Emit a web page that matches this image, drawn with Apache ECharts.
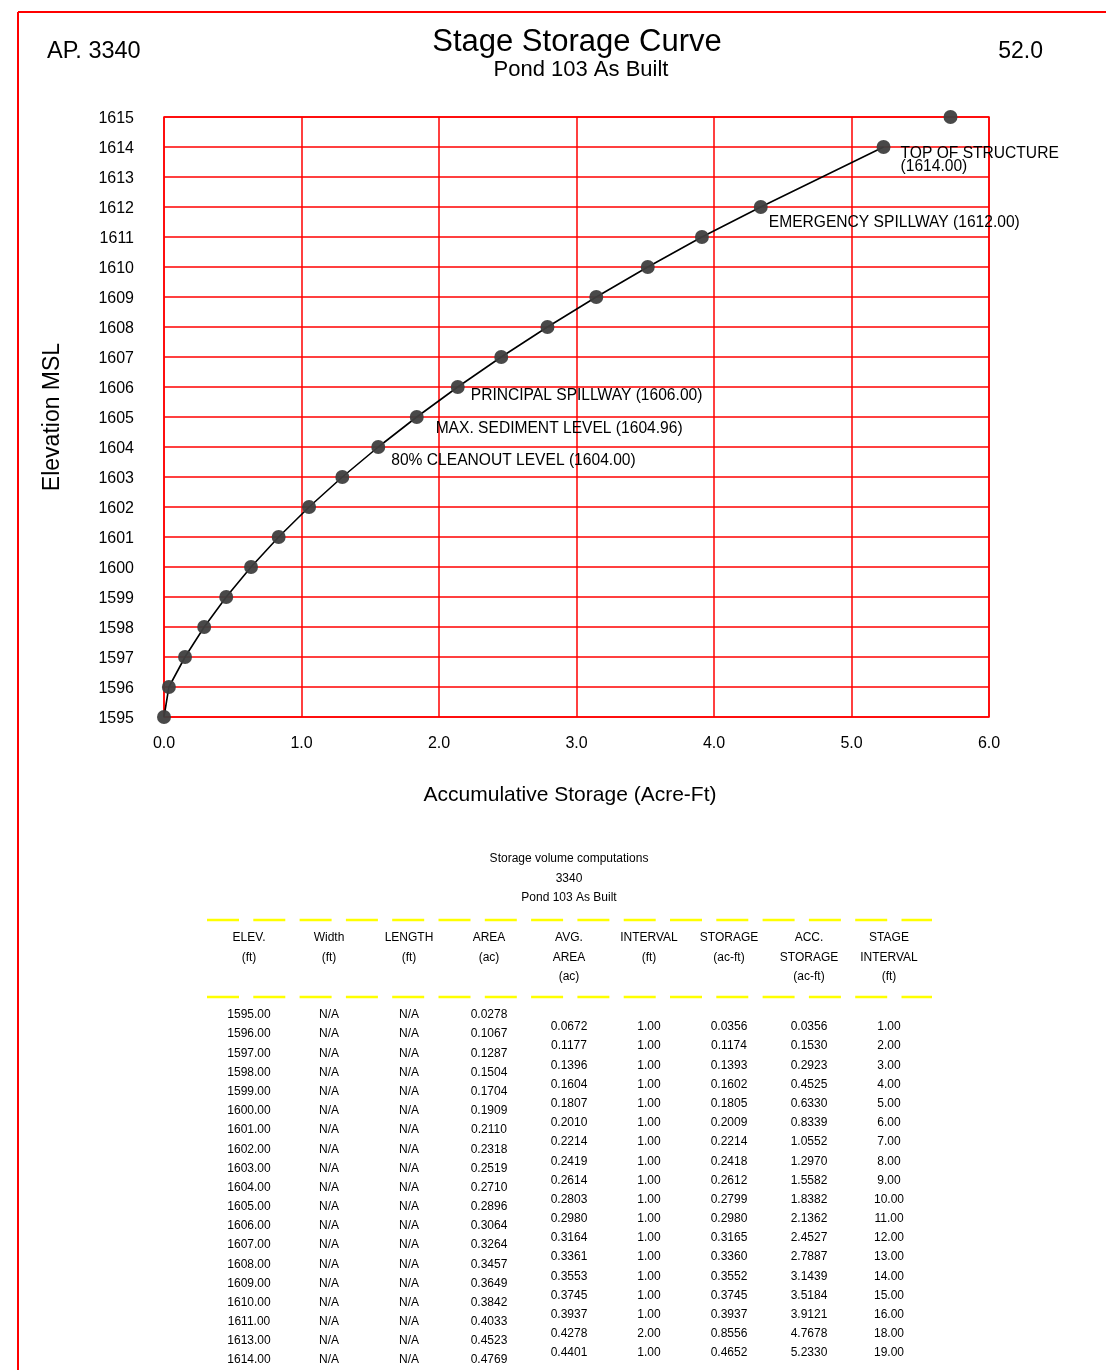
<!DOCTYPE html>
<html>
<head>
<meta charset="utf-8">
<style>
html,body{margin:0;padding:0;background:#fff;}
#chart{width:1106px;height:1370px;}
</style>
<script src="https://cdn.jsdelivr.net/npm/echarts@6/dist/echarts.min.js"></script>
</head>
<body>
<div id="chart"></div>
<script>
// ---------- Chart data ----------
const curveElevation = [1595,1596,1597,1598,1599,1600,1601,1602,1603,1604,1605,1606,1607,1608,1609,1610,1611,1612,1614];
const curveStorage   = [0,0.0356,0.1530,0.2923,0.4525,0.6330,0.8339,1.0552,1.2970,1.5582,1.8382,2.1362,2.4527,2.7887,3.1439,3.5184,3.9121,4.34,5.2330];
const topElevation = [1615];
const topStorage = [5.72];

const annotationText = ['TOP OF STRUCTURE\n(1614.00)','EMERGENCY SPILLWAY (1612.00)','PRINCIPAL SPILLWAY (1606.00)','MAX. SEDIMENT LEVEL (1604.96)','80% CLEANOUT LEVEL (1604.00)'];
const annotationElevation = [1614,1612,1606,1604.96,1604];
const annotationStorage = [5.2330,4.34,2.1362,1.83,1.5582];

const xTicks = [0,1,2,3,4,5,6];
const yTicks = [1595,1596,1597,1598,1599,1600,1601,1602,1603,1604,1605,1606,1607,1608,1609,1610,1611,1612,1613,1614,1615];

// ---------- Table data ----------
const tableTitle = ['Storage volume computations','3340','Pond 103 As Built'];
const headers = [['ELEV.','(ft)'],['Width','(ft)'],['LENGTH','(ft)'],['AREA','(ac)'],['AVG.','AREA','(ac)'],['INTERVAL','(ft)'],['STORAGE','(ac-ft)'],['ACC.','STORAGE','(ac-ft)'],['STAGE','INTERVAL','(ft)']];
const elev = ['1595.00','1596.00','1597.00','1598.00','1599.00','1600.00','1601.00','1602.00','1603.00','1604.00','1605.00','1606.00','1607.00','1608.00','1609.00','1610.00','1611.00','1613.00','1614.00'];
const widthCol = ['N/A','N/A','N/A','N/A','N/A','N/A','N/A','N/A','N/A','N/A','N/A','N/A','N/A','N/A','N/A','N/A','N/A','N/A','N/A'];
const lengthCol = ['N/A','N/A','N/A','N/A','N/A','N/A','N/A','N/A','N/A','N/A','N/A','N/A','N/A','N/A','N/A','N/A','N/A','N/A','N/A'];
const area = ['0.0278','0.1067','0.1287','0.1504','0.1704','0.1909','0.2110','0.2318','0.2519','0.2710','0.2896','0.3064','0.3264','0.3457','0.3649','0.3842','0.4033','0.4523','0.4769'];
const avgArea = ['0.0672','0.1177','0.1396','0.1604','0.1807','0.2010','0.2214','0.2419','0.2614','0.2803','0.2980','0.3164','0.3361','0.3553','0.3745','0.3937','0.4278','0.4401'];
const intervalCol = ['1.00','1.00','1.00','1.00','1.00','1.00','1.00','1.00','1.00','1.00','1.00','1.00','1.00','1.00','1.00','1.00','2.00','1.00'];
const storageCol = ['0.0356','0.1174','0.1393','0.1602','0.1805','0.2009','0.2214','0.2418','0.2612','0.2799','0.2980','0.3165','0.3360','0.3552','0.3745','0.3937','0.8556','0.4652'];
const accStorage = ['0.0356','0.1530','0.2923','0.4525','0.6330','0.8339','1.0552','1.2970','1.5582','1.8382','2.1362','2.4527','2.7887','3.1439','3.5184','3.9121','4.7678','5.2330'];
const stageInterval = ['1.00','2.00','3.00','4.00','5.00','6.00','7.00','8.00','9.00','10.00','11.00','12.00','13.00','14.00','15.00','16.00','18.00','19.00'];

// ---------- Build ----------
const FONT = "'Liberation Sans', Arial, Helvetica, sans-serif";
const DY = 2; // baseline correction
const chart = echarts.init(document.getElementById('chart'), null, {renderer:'canvas'});

function txt(x, y, text, size, align, opts) {
  opts = opts || {};
  return {
    type:'text', x:x + (opts.rotation ? DY : 0), y:y + (opts.rotation ? 0 : DY), rotation: opts.rotation || 0, z: 10,
    style:{text:text, fill: opts.fill || '#000', font: size + 'px ' + FONT,
      textAlign: align || 'center', textVerticalAlign:'middle', align: align || 'center', verticalAlign:'middle'}
  };
}

const graphics = [];
// page border
graphics.push({type:'line', shape:{x1:18,y1:12,x2:1106,y2:12}, style:{stroke:'#ff0000', lineWidth:2}});
graphics.push({type:'line', shape:{x1:18,y1:12,x2:18,y2:1370}, style:{stroke:'#ff0000', lineWidth:2}});
// headers
graphics.push(txt(577, 40, 'Stage Storage Curve', 31, 'center'));
graphics.push(txt(581, 68, 'Pond 103 As Built', 22, 'center'));
graphics.push(txt(47, 50, 'AP. 3340', 23.5, 'left'));
graphics.push(txt(1043, 50, '52.0', 23, 'right'));
// axis names
graphics.push(txt(570, 793, 'Accumulative Storage (Acre-Ft)', 21, 'center'));
graphics.push(txt(51, 417, 'Elevation MSL', 23, 'center', {rotation: Math.PI/2}));

// table
tableTitle.forEach((t,i)=>graphics.push(txt(569, 857 + i*19.3, t, 12, 'center')));
[920, 997].forEach(y=>graphics.push({type:'line', shape:{x1:207,y1:y,x2:932,y2:y}, style:{stroke:'#ffff00', lineWidth:2.5, lineDash:[32,14.3]}}));
const colX = [249,329,409,489,569,649,729,809,889];
headers.forEach((h,c)=>h.forEach((t,r)=>graphics.push(txt(colX[c], 936 + r*19.5, t, 12, 'center'))));
const leftCols = [elev, widthCol, lengthCol, area];
leftCols.forEach((col,c)=>col.forEach((v,r)=>graphics.push(txt(colX[c], 1013 + r*19.17, v, 12, 'center'))));
const rightCols = [avgArea, intervalCol, storageCol, accStorage, stageInterval];
rightCols.forEach((col,c)=>col.forEach((v,r)=>graphics.push(txt(colX[c+4], 1025 + r*19.17, v, 12, 'center'))));

const labelOffsets = [[17,13.5],[8,16],[13,9],[20,10],[13,14]];

const option = {
  animation:false,
  backgroundColor:'#fff',
  grid:{left:164, top:117, width:825, height:600, show:true, borderColor:'#ff0000', borderWidth:1.5, backgroundColor:'transparent'},
  xAxis:{
    type:'value', min:0, max:6, interval:1,
    axisLine:{show:false}, axisTick:{show:false},
    splitLine:{show:true, lineStyle:{color:'#ff0000', width:1.5}},
    axisLabel:{color:'#000', fontSize:16, fontFamily:FONT, margin:19, formatter:v=>v.toFixed(1)}
  },
  yAxis:{
    type:'value', min:1595, max:1615, interval:1,
    axisLine:{show:false}, axisTick:{show:false},
    splitLine:{show:true, lineStyle:{color:'#ff0000', width:1.5}},
    axisLabel:{color:'#000', fontSize:16, fontFamily:FONT, margin:30, verticalAlign:'top', lineHeight:4, formatter:v=>String(v)}
  },
  series:[
    {
      type:'line', data: curveStorage.map((s,i)=>[s, curveElevation[i]]),
      lineStyle:{color:'#000', width:1.6}, symbol:'circle', symbolSize:14,
      itemStyle:{color:'#3f3f3f', opacity:0.95}, z:3
    },
    {
      type:'scatter', data: topStorage.map((s,i)=>[s, topElevation[i]]),
      symbol:'circle', symbolSize:14, itemStyle:{color:'#3f3f3f', opacity:0.95}, z:3
    },
    {
      type:'scatter', symbolSize:0, silent:true, z:5,
      itemStyle:{opacity:1},
      data: annotationStorage.map((s,i)=>({
        value:[s, annotationElevation[i]],
        label:{show:true, formatter:annotationText[i], position:'right', distance:0,
          offset:labelOffsets[i], align:'left', verticalAlign:'middle',
          color:'#000', opacity:1, fontSize:15.6, fontFamily:FONT, lineHeight:13}
      }))
    }
  ],
  graphic: graphics
};
chart.setOption(option);
</script>
</body>
</html>
